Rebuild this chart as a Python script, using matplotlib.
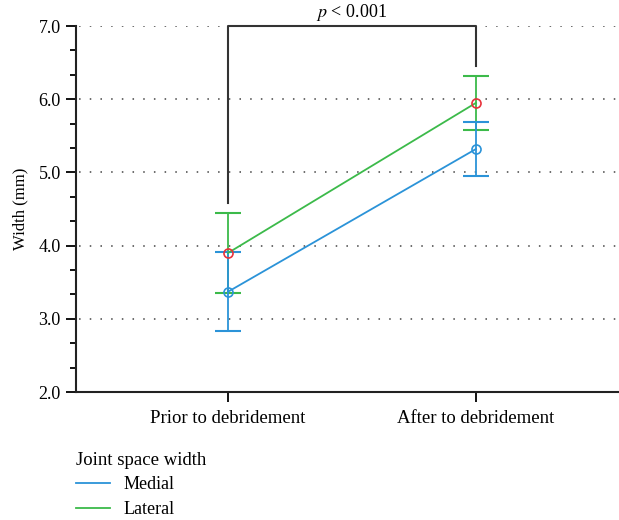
import matplotlib
matplotlib.use("Agg")
import matplotlib.pyplot as plt
import numpy as np

plt.rcParams["font.family"] = ["Liberation Serif", "DejaVu Serif"]
plt.rcParams["mathtext.fontset"] = "stix"

stages = ["Prior to debridement", "After to debridement"]
medial_mean = [3.37, 5.32]
medial_low = [2.83, 4.95]
medial_high = [3.92, 5.69]
lateral_mean = [3.90, 5.95]
lateral_low = [3.35, 5.58]
lateral_high = [4.44, 6.32]
bracket_start = 4.58
bracket_end = 6.45
p_label = r"$p$ < 0.001"

blue = "#2b93d8"
green = "#3cba4a"
red = "#e8323a"

fig = plt.figure(figsize=(6.19, 5.2), dpi=100)
ax = fig.add_axes([0.1228, 0.246, 0.8772, 0.704])

x = np.arange(len(stages))


def draw_series(mean, low, high, color, mcolor, label):
    mean = np.array(mean)
    yerr = [mean - np.array(low), np.array(high) - mean]
    ax.errorbar(x, mean, yerr=yerr, fmt="none", ecolor=color, elinewidth=1.3,
                capsize=9.5, capthick=1.5, zorder=3)
    ax.plot(x, mean, color=color, lw=1.3, label=label, zorder=4)
    ax.plot(x, mean, "o", mfc="none", mec=mcolor, mew=1.2, ms=6.5, zorder=5)


draw_series(lateral_mean, lateral_low, lateral_high, green, red, "Lateral")
draw_series(medial_mean, medial_low, medial_high, blue, blue, "Medial")

# significance bracket
ax.plot([x[0], x[0], x[1], x[1]], [bracket_start, 7.0, 7.0, bracket_end],
        color="#333333", lw=1.5, clip_on=False, zorder=6)
ax.text((x[0] + x[1]) / 2, 7.035, p_label, ha="center", va="bottom", fontsize=13)

ax.set_xlim(-0.613, 1.577)
ax.set_ylim(2.0, 7.0)
ax.set_xticks(x)
ax.set_xticklabels(stages, fontsize=13.5)
ax.set_yticks(np.arange(2, 8, 1))
ax.set_yticklabels([f"{v:.1f}" for v in range(2, 8)], fontsize=13)
ax.set_yticks(np.arange(2, 7.01, 1 / 3), minor=True)
ax.tick_params(axis="y", which="major", length=7, width=1.3, pad=4)
ax.tick_params(axis="y", which="minor", length=4, width=1.3)
ax.tick_params(axis="x", length=7, width=1.3, pad=6)
ax.set_ylabel("Width (mm)", fontsize=12, labelpad=7)

for side in ["top", "right"]:
    ax.spines[side].set_visible(False)
for side in ["left", "bottom"]:
    ax.spines[side].set_linewidth(1.5)
    ax.spines[side].set_color("#222222")

ax.yaxis.grid(True, which="major", color="#444444", linestyle=(5, (1, 6)), lw=1.1)
ax.set_axisbelow(True)

handles, labels = ax.get_legend_handles_labels()
order = [labels.index("Medial"), labels.index("Lateral")]
leg = fig.legend([handles[i] for i in order], [labels[i] for i in order],
                 title="Joint space width", loc="upper left",
                 bbox_to_anchor=(0.123, 0.131), frameon=False, fontsize=13,
                 title_fontsize=13.5, handlelength=1.9, handletextpad=0.75,
                 labelspacing=0.42, borderpad=0, borderaxespad=0)
leg._legend_box.align = "left"

fig.savefig("out.png", dpi=100)
